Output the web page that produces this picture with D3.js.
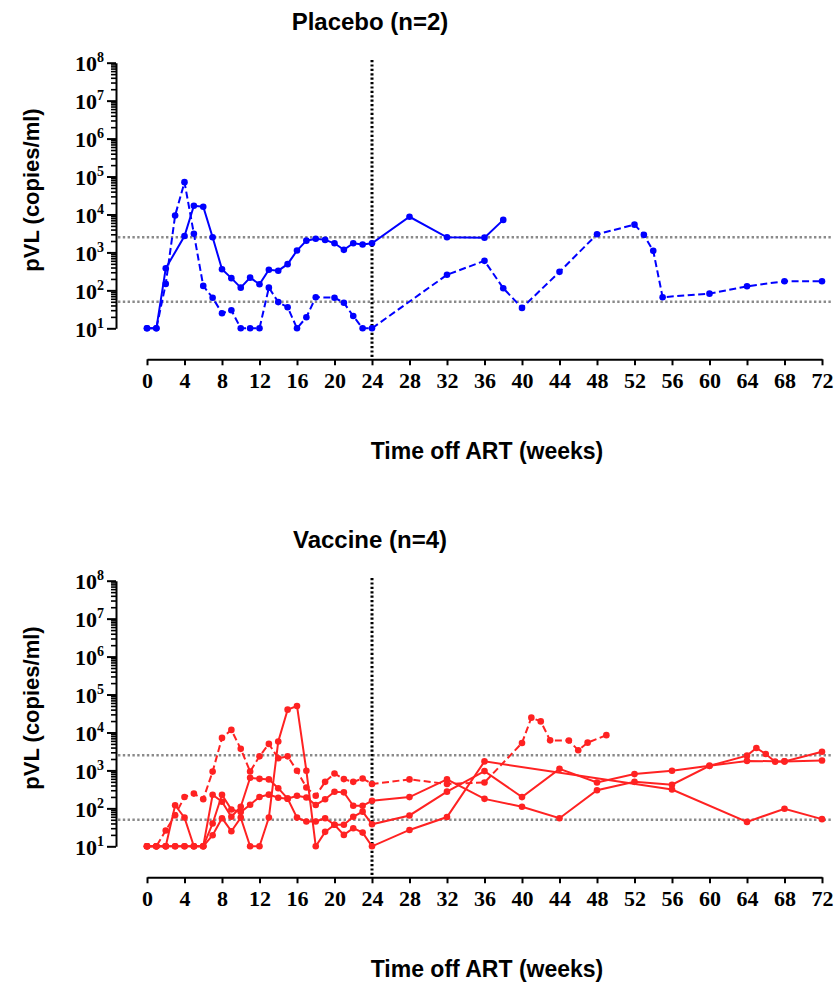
<!DOCTYPE html>
<html>
<head>
<meta charset="utf-8">
<script src="https://cdn.jsdelivr.net/npm/d3@7"></script>
<style>
  html, body { margin: 0; padding: 0; background: #fff; }
  svg { display: block; }
</style>
</head>
<body>
<svg id="chart" width="834" height="984"></svg>
<script>
// ---------- data ----------
const xTickValues = [0,4,8,12,16,20,24,28,32,36,40,44,48,52,56,60,64,68,72];
const yDecades = [1e1,1e2,1e3,1e4,1e5,1e6,1e7,1e8];
const refLines = [50, 2500];
const artStopWeek = 24;

const placeboTitle = "Placebo (n=2)";
const vaccineTitle = "Vaccine (n=4)";
const yTitle = "pVL (copies/ml)";
const xTitle = "Time off ART (weeks)";

// Placebo, subject 1 (solid)
const placeboWeeksA = [0,1,2,4,5,6,7,8,9,10,11,12,13,14,15,16,17,18,19,20,21,22,23,24,28,32,36,38];
const placeboValsA  = [10,10,380,2700,17000,16000,2500,360,210,118,216,145,350,330,490,1120,2040,2300,2140,1740,1170,1740,1620,1740,8700,2500,2450,7200];
// Placebo, subject 2 (dashed)
const placeboWeeksB = [0,1,2,3,4,5,6,7,8,9,10,11,12,13,14,15,16,17,18,20,21,22,23,24,32,36,38,40,44,48,52,53,54,55,60,64,68,72];
const placeboValsB  = [10,10,148,9400,71000,3100,131,64,25,30,10,10,10,118,49,36,10,19.5,66,64,47,21,10,10,257,600,114,34.5,307,3000,5400,2900,1100,66,82,128,174,174];

// Vaccine, subject 1 (dashed)
const vaccineWeeksD = [0,1,2,3,4,5,6,7,8,9,10,11,12,13,14,15,16,17,18,19,20,21,22,23,24,28,32,36,40,41,42,43,45,46,47,49];
const vaccineValsD  = [10,10,26,66,200,245,175,930,7200,11700,3700,940,2350,5000,2090,2350,980,355,214,500,830,590,500,610,440,580,440,480,5300,24600,19600,6200,6100,3400,5400,8500];
// Vaccine, subject 2 (solid, peak at wk 16)
const vaccineWeeksP = [0,1,2,3,4,5,6,7,8,9,10,11,12,13,14,15,16,17,18,19,20,21,22,23,24,28,32,36,56,64,68,72];
const vaccineValsP  = [10,10,10,121,57,10,10,19.6,55,25,57,10,10,57,5800,40000,50000,980,10,24,37,20,30,23,10,27,59,1730,314,44,98,52];
// Vaccine, subject 3 (solid)
const vaccineWeeksR = [0,1,2,3,4,5,6,7,8,9,10,11,12,13,14,15,16,17,18,19,20,21,22,23,24,28,32,36,40,44,48,52,56,60,64,68,72];
const vaccineValsR  = [10,10,10,10,10,10,10,40,228,93,80,125,200,230,190,180,214,194,123,174,274,264,117,117,158,198,580,178,110,55,300,500,420,1320,1780,1730,1820];
// Vaccine, subject 4 (solid)
const vaccineWeeksS = [0,1,2,3,4,5,6,7,8,9,10,11,12,13,14,15,16,17,18,19,20,21,22,23,24,28,32,36,40,44,48,52,56,60,64,65,66,67,68,72];
const vaccineValsS  = [10,10,10,10,10,10,10,228,150,60,110,640,600,580,340,180,57,45,45,55,37,37,60,82,38,65,276,960,198,1100,480,800,980,1320,2450,3900,2700,1700,1730,3100];

const placeboSeries = [
  {weeks: placeboWeeksA, vals: placeboValsA, dashed: false},
  {weeks: placeboWeeksB, vals: placeboValsB, dashed: true}
];
const vaccineSeries = [
  {weeks: vaccineWeeksR, vals: vaccineValsR, dashed: false},
  {weeks: vaccineWeeksS, vals: vaccineValsS, dashed: false},
  {weeks: vaccineWeeksP, vals: vaccineValsP, dashed: false},
  {weeks: vaccineWeeksD, vals: vaccineValsD, dashed: true}
];

// ---------- drawing ----------
const svg = d3.select("#chart");
const x = d3.scaleLinear().domain([0, 72]).range([147, 822]);

function drawPanel(offY, title, series, color) {
  const g = svg.append("g").attr("transform", `translate(0,${offY})`);
  const y = d3.scaleLog().domain([10, 1e8]).range([328.3, 62.7]);

  // title
  g.append("text").attr("x", 370).attr("y", 29.5)
    .attr("text-anchor", "middle")
    .style("font-family", "'Liberation Sans', Arial, sans-serif")
    .style("font-weight", "bold").style("font-size", "24px")
    .text(title);

  // y axis title
  g.append("text")
    .attr("transform", `translate(39,190) rotate(-90)`)
    .attr("text-anchor", "middle")
    .style("font-family", "'Liberation Sans', Arial, sans-serif")
    .style("font-weight", "bold").style("font-size", "22px")
    .text(yTitle);

  // x axis title
  g.append("text").attr("x", 487).attr("y", 459)
    .attr("text-anchor", "middle")
    .style("font-family", "'Liberation Sans', Arial, sans-serif")
    .style("font-weight", "bold").style("font-size", "23px")
    .text(xTitle);

  // reference lines
  g.selectAll("line.ref").data(refLines).enter().append("line")
    .attr("class", "ref")
    .attr("x1", 118).attr("x2", 832)
    .attr("y1", d => y(d)).attr("y2", d => y(d))
    .attr("stroke", "#8a8a8a").attr("stroke-width", 2.5)
    .attr("stroke-dasharray", "2.4,2.4");

  // minor y ticks
  const minor = [];
  for (let e = 1; e < 8; e++) for (let m = 2; m <= 9; m++) minor.push(m * Math.pow(10, e));
  const yMinor = d3.axisLeft(y).tickValues(minor).tickSize(5).tickFormat("").tickSizeOuter(0);
  const gm = g.append("g").attr("transform", "translate(116,0)").call(yMinor);
  gm.select(".domain").remove();
  gm.selectAll("line").attr("stroke", "#000").attr("stroke-width", 1.6);

  // major y axis
  const yAxis = d3.axisLeft(y).tickValues(yDecades).tickSize(9).tickSizeOuter(0).tickFormat("");
  const gy = g.append("g").attr("transform", "translate(116,0)").call(yAxis);
  gy.select(".domain").attr("stroke", "#000").attr("stroke-width", 2);
  gy.selectAll("line").attr("stroke", "#000").attr("stroke-width", 2);
  gy.selectAll(".tick").each(function(d) {
    const t = d3.select(this).append("text")
      .attr("x", -12).attr("y", 8)
      .attr("text-anchor", "end")
      .attr("fill", "#000")
      .style("font-family", "'Liberation Serif', 'Times New Roman', serif")
      .style("font-weight", "bold").style("font-size", "22px");
    t.append("tspan").text("10");
    t.append("tspan").attr("dy", -9).style("font-size", "14px").text(Math.round(Math.log10(d)));
  });

  // x axis
  const xAxis = d3.axisBottom(x).tickValues(xTickValues).tickSize(6).tickSizeOuter(0).tickPadding(7);
  const gx = g.append("g").attr("transform", "translate(0,359.3)").call(xAxis);
  gx.select(".domain").attr("stroke", "#000").attr("stroke-width", 2);
  gx.selectAll("line").attr("stroke", "#000").attr("stroke-width", 2);
  gx.selectAll("text")
    .attr("fill", "#000")
    .style("font-family", "'Liberation Serif', 'Times New Roman', serif")
    .style("font-weight", "bold").style("font-size", "22px");

  // vertical ART stop line
  g.append("line")
    .attr("x1", x(artStopWeek)).attr("x2", x(artStopWeek))
    .attr("y1", 60).attr("y2", 359.3)
    .attr("stroke", "#000").attr("stroke-width", 3)
    .attr("stroke-dasharray", "2.2,2.2");

  // series
  const line = d3.line().x(d => x(d[0])).y(d => y(d[1]));
  series.forEach(s => {
    const pts = s.weeks.map((w, i) => [w, s.vals[i]]);
    g.append("path").datum(pts)
      .attr("d", line)
      .attr("fill", "none")
      .attr("stroke", color).attr("stroke-width", 2)
      .attr("stroke-dasharray", s.dashed ? "7,3.5" : null);
    g.selectAll(null).data(pts).enter().append("circle")
      .attr("cx", d => x(d[0])).attr("cy", d => y(d[1]))
      .attr("r", 3.3).attr("fill", color);
  });
}

drawPanel(0, placeboTitle, placeboSeries, "#0000ff");
drawPanel(518, vaccineTitle, vaccineSeries, "#ff2222");
</script>
</body>
</html>
